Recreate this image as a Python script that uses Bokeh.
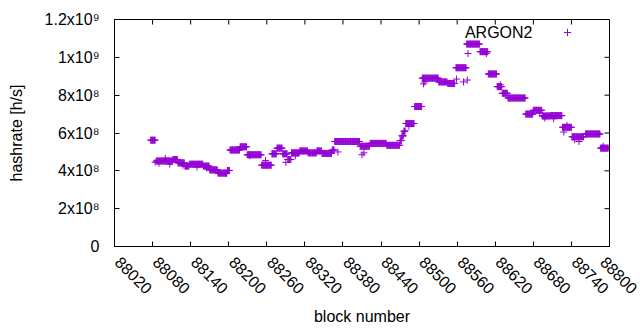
import math
import numpy as np
from bokeh.plotting import figure
from bokeh.models import (Range1d, FixedTicker, Label, Legend, LegendItem, ColumnDataSource)
from bokeh.embed import file_html
from bokeh.resources import INLINE

# ---- data: runs of consecutive blocks with (nearly) constant hashrate ----
run_start = [88077, 88086, 88112, 88120, 88131, 88138, 88160, 88170, 88183, 88198,
             88202, 88218, 88229, 88252, 88268, 88276, 88285, 88293, 88299, 88312,
             88325, 88339, 88347, 88363, 88367, 88407, 88423, 88449, 88470, 88473,
             88476, 88479, 88493, 88505, 88531, 88545, 88558, 88575, 88596, 88609,
             88623, 88631, 88640, 88668, 88680, 88694, 88707, 88726, 88741, 88762,
             88786]
run_end = [88084, 88111, 88119, 88130, 88137, 88159, 88169, 88182, 88197, 88201,
           88217, 88228, 88251, 88267, 88275, 88284, 88292, 88298, 88311, 88324,
           88338, 88346, 88362, 88366, 88406, 88422, 88448, 88469, 88472, 88475,
           88478, 88492, 88504, 88530, 88544, 88556, 88574, 88595, 88608, 88622,
           88630, 88639, 88667, 88679, 88693, 88706, 88725, 88740, 88759, 88785,
           88798]
run_value = [5.62e8, 4.52e8, 4.60e8, 4.42e8, 4.25e8, 4.35e8, 4.25e8, 4.05e8, 3.88e8, 4.02e8,
             5.10e8, 5.27e8, 4.85e8, 4.30e8, 4.90e8, 5.20e8, 4.90e8, 4.60e8, 4.95e8, 5.05e8,
             4.95e8, 5.05e8, 4.92e8, 5.10e8, 5.55e8, 5.30e8, 5.45e8, 5.35e8, 5.60e8, 5.85e8,
             6.10e8, 6.50e8, 7.40e8, 8.90e8, 8.70e8, 8.62e8, 9.45e8, 1.07e9, 1.03e9, 9.12e8,
             8.45e8, 8.10e8, 7.85e8, 7.00e8, 7.20e8, 6.90e8, 6.92e8, 6.30e8, 5.80e8, 5.95e8,
             5.20e8]

# scattered single blocks that sit off their run
single_block = [88084, 88090, 88100, 88107, 88128, 88150, 88165, 88195, 88233, 88258,
                88290, 88305, 88372, 88410, 88413, 88474, 88484, 88507, 88509, 88559,
                88570, 88576, 88577, 88606, 88628, 88690, 88698, 88712, 88728, 88733,
                88745, 88752, 88790]
single_value = [4.45e8, 4.40e8, 4.65e8, 4.35e8, 4.30e8, 4.20e8, 4.15e8, 3.85e8, 4.80e8, 4.55e8,
                4.45e8, 4.80e8, 5.00e8, 4.85e8, 4.95e8, 5.85e8, 6.35e8, 8.60e8, 8.70e8, 8.85e8,
                8.70e8, 8.80e8, 1.02e9, 1.02e9, 8.55e8, 7.10e8, 6.80e8, 6.75e8, 6.05e8, 6.40e8,
                5.65e8, 5.55e8, 5.30e8]

x_ticks = list(range(88020, 88801, 60))
y_ticks = [0, 200000000, 400000000, 600000000, 800000000, 1000000000, 1200000000]
y_tick_labels = ["0", "2x10\u2078", "4x10\u2078", "6x10\u2078", "8x10\u2078", "1x10\u2079", "1.2x10\u2079"]

series_name = "ARGON2"
color = "#9400D3"
FONT = "Liberation Sans"

blocks = np.concatenate([np.arange(s, e + 1) for s, e in zip(run_start, run_end)] + [np.array(single_block)])
values = np.concatenate([np.full(e - s + 1, v) for s, e, v in zip(run_start, run_end, run_value)] + [np.array(single_value)])
src = ColumnDataSource(dict(x=blocks, y=values))

X0, X1, Y0, Y1 = 88020, 88800, 0, 1.2e9
p = figure(width=640, height=330, output_backend="svg", toolbar_location=None,
           x_range=Range1d(X0, X1), y_range=Range1d(Y0, Y1),
           min_border_left=114, min_border_right=31, min_border_top=19, min_border_bottom=84)
p.grid.visible = False
p.outline_line_color = "black"
p.outline_line_width = 1
p.background_fill_color = "white"
p.border_fill_color = "white"

r = p.scatter("x", "y", source=src, marker="cross", size=7, line_color=color, line_width=1)

# mirrored tick marks on the top and right borders (half of each dash is clipped away)
p.scatter(x=x_ticks, y=[Y1] * len(x_ticks), marker="dash", angle=math.pi / 2, size=10,
          line_color="black", line_width=1)
p.scatter(x=[X1] * len(y_ticks), y=y_ticks, marker="dash", size=10,
          line_color="black", line_width=1)

xa = p.xaxis[0]
xa.ticker = FixedTicker(ticks=x_ticks)
xa.major_label_orientation = -math.pi / 4
# a leading no-break space pushes the rotated labels down-right, as gnuplot places them
xa.major_label_overrides = {t: "\u00a0" + str(t) for t in x_ticks}
xa.axis_label = "block number"
ya = p.yaxis[0]
ya.ticker = FixedTicker(ticks=y_ticks)
ya.major_label_overrides = {t: s for t, s in zip(y_ticks, y_tick_labels)}
ya.axis_label = "hashrate [h/s]"
for ax in (xa, ya):
    ax.minor_tick_line_color = None
    ax.major_tick_in = 5
    ax.major_tick_out = 0
    ax.axis_line_color = "black"
    ax.major_tick_line_color = "black"
    ax.major_label_text_font = FONT
    ax.major_label_text_font_size = "16px"
    ax.major_label_text_color = "black"
    ax.axis_label_text_font = FONT
    ax.axis_label_text_font_size = "16px"
    ax.axis_label_text_font_style = "normal"
    ax.axis_label_text_color = "black"
xa.major_label_standoff = 10
xa.axis_label_standoff = 2
ya.major_label_standoff = 15
ya.axis_label_standoff = 17

# key: text then sample (gnuplot style)
p.add_layout(Label(x=418, y=214, x_units="screen", y_units="screen", text=series_name,
                   text_align="right", text_baseline="middle",
                   text_font=FONT, text_font_size="16px", text_color="black"))
leg = Legend(items=[LegendItem(label=" ", renderers=[r])], location=(444, 205),
             glyph_width=18, glyph_height=18, padding=0, margin=0, spacing=0,
             label_standoff=0, label_width=0, label_height=0, label_text_font_size="1px",
             border_line_alpha=0, background_fill_alpha=0)
p.add_layout(leg, "center")

open("out.html", "w").write(file_html(p, INLINE))
